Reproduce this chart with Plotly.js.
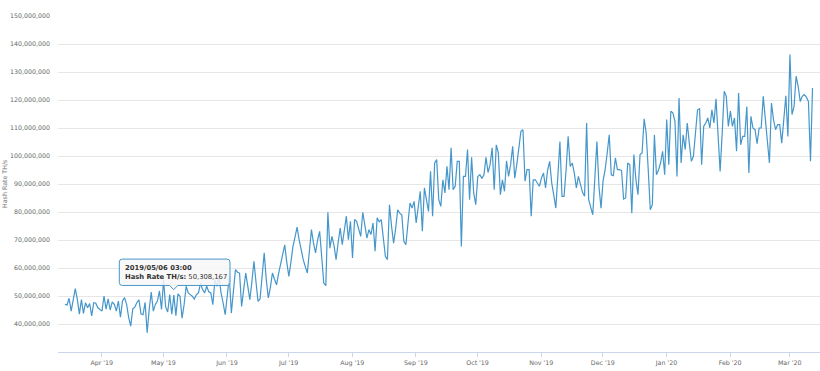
<!DOCTYPE html>
<html><head><meta charset="utf-8">
<script src="https://cdn.plot.ly/plotly-3.0.1.min.js"></script>
<style>html,body{margin:0;padding:0;background:#fff}#chart{width:820px;height:371px}</style>
</head><body><div id="chart"></div>
<script>
// Daily hash rate (millions of TH/s), first point 2019-03-14
const startDate = '2019-03-14';
const mar19 = [47.0, 46.8, 49.2, 44.6, 48.6, 52.6, 48.8, 43.5, 48.7, 43.8, 47.6, 45.8, 47.3, 42.9, 47.6, 47.4, 45.8, 45.3];
const apr19 = [44.6, 50.0, 45.3, 49.0, 45.0, 47.9, 47.0, 44.6, 48.2, 42.4, 48.2, 49.4, 47.0, 42.4, 39.2, 45.4, 46.0, 47.7, 48.6, 43.6, 43.3, 47.7, 36.9, 45.2, 51.4, 44.6, 47.0, 48.2, 51.8, 45.2];
const may19 = [55.7, 46.1, 44.3, 50.5, 43.5, 50.308167, 43.0, 50.8, 49.9, 42.1, 46.9, 53.5, 51.1, 50.5, 49.9, 48.9, 50.5, 51.1, 54.6, 52.3, 51.1, 53.5, 51.5, 51.1, 46.9, 55.8, 53.5, 57.0, 51.0, 47.5, 43.3];
const jun19 = [50.0, 57.0, 43.9, 52.0, 59.4, 58.5, 58.2, 46.3, 52.0, 58.2, 53.5, 48.7, 55.0, 62.4, 55.0, 48.1, 49.0, 58.0, 65.4, 56.0, 49.3, 53.0, 58.2, 56.0, 54.0, 58.0, 61.2, 65.0, 68.3, 62.0];
const jul19 = [57.0, 62.0, 67.7, 71.0, 74.6, 70.1, 66.0, 63.0, 60.5, 58.2, 66.0, 73.7, 69.0, 65.4, 70.0, 73.1, 64.0, 54.6, 53.7, 79.9, 67.1, 71.3, 68.0, 63.0, 69.0, 74.3, 68.3, 73.0, 78.5, 70.1, 76.7];
const aug19 = [63.6, 77.3, 76.7, 74.0, 71.3, 79.9, 75.0, 70.7, 73.7, 72.0, 76.1, 66.0, 77.9, 76.5, 77.3, 70.0, 64.2, 63.0, 82.6, 75.0, 68.9, 74.0, 80.8, 79.6, 79.0, 69.5, 68.3, 76.0, 83.2, 81.4, 83.8];
const sep19 = [76.1, 82.0, 87.4, 73.1, 88.6, 84.4, 80.2, 94.5, 78.5, 97.5, 98.7, 84.4, 82.0, 91.5, 86.8, 96.3, 88.0, 102.9, 88.0, 89.2, 98.1, 98.1, 67.7, 92.7, 92.7, 102.3, 84.4, 99.5, 86.8, 82.6];
const oct19 = [92.7, 93.3, 92.0, 93.3, 99.5, 94.1, 97.0, 102.9, 88.0, 104.0, 101.1, 86.2, 91.5, 87.4, 98.3, 92.7, 97.0, 103.5, 92.1, 96.9, 102.0, 108.8, 109.4, 91.0, 95.1, 95.1, 78.5, 91.5, 91.5, 90.4, 89.2];
const nov19 = [92.1, 93.9, 88.6, 95.0, 98.1, 90.4, 86.0, 81.4, 93.0, 105.2, 85.6, 85.6, 95.0, 107.0, 96.3, 97.5, 93.9, 88.6, 92.7, 89.2, 87.0, 85.6, 111.8, 84.4, 81.5, 79.0, 92.0, 105.2, 89.2, 81.4];
const dec19 = [91.0, 95.1, 101.0, 107.6, 93.3, 93.0, 99.3, 95.1, 95.1, 94.8, 84.6, 85.0, 97.5, 96.9, 79.6, 100.5, 91.5, 86.2, 100.5, 101.1, 113.3, 108.2, 95.0, 80.8, 82.6, 107.6, 93.3, 95.0, 97.5, 101.7, 93.3];
const jan20 = [113.0, 96.9, 116.0, 115.4, 112.4, 92.7, 120.7, 97.5, 107.6, 102.3, 111.8, 104.6, 98.1, 99.9, 108.0, 116.5, 116.9, 96.9, 110.6, 111.8, 113.6, 110.0, 116.5, 111.8, 120.4, 107.0, 94.5, 108.0, 123.1, 121.3, 110.6];
const feb20 = [116.0, 110.6, 113.6, 101.7, 122.5, 104.0, 107.0, 107.0, 117.7, 93.9, 114.2, 110.0, 109.4, 104.4, 110.0, 110.0, 121.3, 113.0, 104.0, 97.5, 118.9, 113.0, 109.4, 111.2, 111.2, 104.6, 113.0, 121.5, 107.0];
const mar20 = [136.2, 114.8, 117.7, 128.5, 124.9, 119.5, 121.3, 121.9, 121.0, 119.5, 98.1, 124.3];

const yTicks = [40e6, 50e6, 60e6, 70e6, 80e6, 90e6, 100e6, 110e6, 120e6, 130e6, 140e6, 150e6];
const seriesName = 'Hash Rate TH/s';
const tooltipDay = '2019-05-06';
const tooltipHeader = '2019/05/06 03:00';

const millions = [].concat(mar19, apr19, may19, jun19, jul19, aug19, sep19, oct19, nov19, dec19, jan20, feb20, mar20);
const t0 = Date.parse(startDate + 'T03:00:00Z');
const xs = millions.map((v, i) => {
  const iso = new Date(t0 + i * 86400000).toISOString();
  return iso.slice(0, 10) + ' 03:00';
});
const ys = millions.map(v => Math.round(v * 1e6));
const tipIdx = xs.findIndex(d => d.startsWith(tooltipDay));
const tipValue = ys[tipIdx].toLocaleString('en-US');

const lineColor = '#4596cb';
const trace = {
  type: 'scatter', mode: 'lines', x: xs, y: ys, name: seriesName,
  line: {color: lineColor, width: 1.2}, hoverinfo: 'skip'
};

const tipPath = 'M 0.08439,0.27654 H 0.22178 Q 0.22572,0.27654 0.22572,0.26762 V 0.20696 Q 0.22572,0.19804 0.22178,0.19804 H 0.15709 L 0.15184,0.18525 L 0.14659,0.19804 H 0.08439 Q 0.08045,0.19804 0.08045,0.20696 V 0.26762 Q 0.08045,0.27654 0.08439,0.27654 Z';

const layout = {
  width: 820, height: 371,
  margin: {l: 58, r: 0, t: 16, b: 19},
  paper_bgcolor: '#ffffff', plot_bgcolor: '#ffffff',
  showlegend: false,
  font: {family: 'DejaVu Sans', size: 6.3, color: '#666666'},
  xaxis: {
    type: 'date',
    range: ['2019-03-10 17:15', '2020-03-15 18:15'],
    tick0: '2019-04-01', dtick: 'M1', tickformat: "%b '%y",
    ticks: 'outside', ticklen: 4, tickcolor: '#ccd6eb', tickwidth: 1,
    showline: true, linecolor: '#ccd6eb', linewidth: 1,
    showgrid: false, zeroline: false,
    tickfont: {family: 'DejaVu Sans', size: 6.3, color: '#666666'}
  },
  yaxis: {
    range: [30e6, 150e6],
    tickvals: yTicks, tickformat: ',d',
    showgrid: true, gridcolor: '#e6e6e6', gridwidth: 1,
    zeroline: false, showline: false, ticks: '',
    ticklabelstandoff: 7,
    tickfont: {family: 'DejaVu Sans', size: 6.3, color: '#666666'}
  },
  shapes: [
    {type: 'path', xref: 'paper', yref: 'paper', path: tipPath,
     fillcolor: 'rgba(247,247,247,0.85)', line: {color: lineColor, width: 1}, layer: 'above'}
  ],
  annotations: [
    {xref: 'paper', yref: 'paper', x: 0.08465, y: 0.2367, xanchor: 'left', yanchor: 'middle', align: 'left',
     showarrow: false, text: '<b>' + tooltipHeader + '</b><br><b>' + seriesName + ':</b> ' + tipValue,
     font: {family: 'DejaVu Sans', size: 6.8, color: '#333333'}},
    {xref: 'paper', yref: 'paper', x: -0.0709, y: 0.5, xanchor: 'center', yanchor: 'middle',
     showarrow: false, textangle: -90, text: seriesName,
     font: {family: 'DejaVu Sans', size: 6.3, color: '#777777'}}
  ]
};

Plotly.newPlot('chart', [trace], layout, {displayModeBar: false, staticPlot: true});
</script>
</body></html>
